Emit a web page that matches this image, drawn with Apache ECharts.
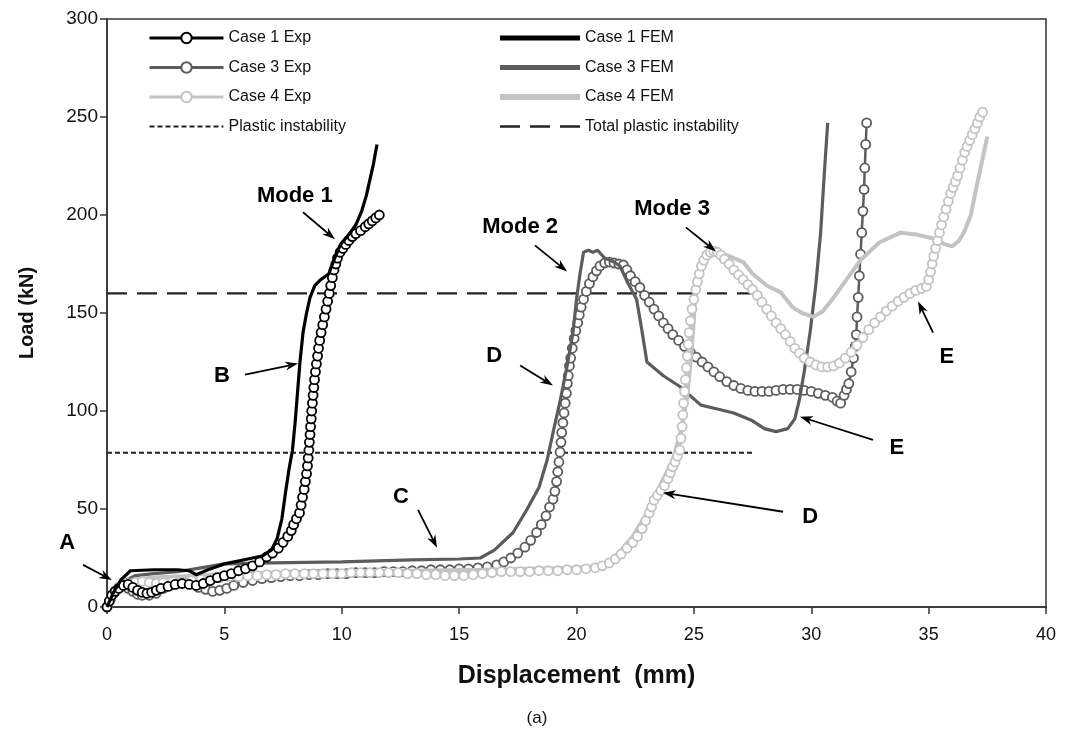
<!DOCTYPE html>
<html>
<head>
<meta charset="utf-8">
<script src="https://cdn.jsdelivr.net/npm/echarts@6/dist/echarts.min.js"></script>
<style>
html,body{margin:0;padding:0;background:#fff;}
#chart{width:1067px;height:740px;}
</style>
</head>
<body>
<div id="chart"></div>
<script>
// ---- data (displacement mm, load kN) ----
const xTicks = [0, 5, 10, 15, 20, 25, 30, 35, 40];
const yTicks = [0, 50, 100, 150, 200, 250, 300];

const case1Exp = [[0,0],[0.1,3],[0.2,6],[0.35,8],[0.5,9.5],[0.7,11],[0.9,11.5],[1.1,10],[1.3,8.5],[1.5,7.5],[1.7,7],[1.9,7.5],[2.1,8.5],[2.3,9.5],[2.6,10.5],[2.9,11.5],[3.2,12],[3.5,11.5],[3.8,11],[4.1,12],[4.4,13.5],[4.7,15],[5.0,16],[5.3,17],[5.6,18.5],[5.9,19.5],[6.2,21],[6.5,23],[6.8,25.5],[7.05,27.5],[7.3,30],[7.5,33],[7.7,36],[7.85,39],[7.95,42],[8.07,45],[8.2,48],[8.27,52],[8.33,56],[8.4,60],[8.45,64],[8.5,68],[8.54,72],[8.57,76],[8.6,80],[8.62,84],[8.65,88],[8.67,92],[8.7,96],[8.72,100],[8.75,104],[8.78,108],[8.81,112],[8.84,116],[8.88,120],[8.92,124],[8.97,128],[9.01,132],[9.06,136],[9.12,140],[9.19,144],[9.26,148],[9.33,152],[9.4,156],[9.47,160],[9.53,164],[9.6,168],[9.67,172],[9.75,175],[9.82,178],[9.93,181],[10.05,183],[10.17,185],[10.3,187],[10.45,189],[10.6,190.5],[10.8,192],[11.0,194],[11.15,195.5],[11.3,197],[11.45,198.5],[11.6,200]];
const case1Fem = [[0,0],[0.3,8],[0.6,14],[1.0,18.5],[2.0,19],[3.0,19],[3.5,18.5],[3.8,16.5],[4.3,19],[5.0,22],[5.8,24],[6.6,26],[7.0,29],[7.25,35],[7.45,45],[7.6,58],[7.75,70],[7.9,80],[8.02,95],[8.12,110],[8.22,125],[8.35,140],[8.5,150],[8.65,158],[8.85,164],[9.1,167],[9.45,170],[9.7,178],[9.95,185],[10.3,190],[10.6,195],[10.85,202],[11.05,210],[11.2,218],[11.35,226],[11.5,236]];
const case3Exp = [[0,0],[0.15,4],[0.3,7],[0.5,10],[0.7,11],[0.9,9.5],[1.1,8],[1.3,6.5],[1.5,6],[1.8,6],[2.1,7],[2.4,9.5],[2.7,11],[3.0,12],[3.3,12.5],[3.6,12],[3.9,10],[4.2,9],[4.5,8],[4.8,8.5],[5.1,9.5],[5.4,11],[5.8,12.5],[6.2,13.5],[6.6,14.5],[7.0,15],[7.4,15.5],[7.8,16],[8.2,16],[8.6,16.5],[9.0,16.5],[9.4,17],[9.8,17],[10.2,17],[10.6,17.5],[11.0,17.5],[11.4,17.5],[11.8,18],[12.2,18],[12.6,18],[13.0,18.5],[13.4,18.5],[13.8,19],[14.2,19],[14.6,19],[15.0,19.5],[15.4,19.5],[15.8,20],[16.2,20.5],[16.6,21.5],[16.9,23],[17.2,25],[17.5,27.5],[17.8,30.5],[18.05,34],[18.3,38],[18.5,42],[18.7,46.5],[18.85,51],[19.0,55],[19.08,59],[19.15,64],[19.2,69],[19.25,74],[19.3,79],[19.34,84],[19.37,89],[19.42,94],[19.47,99],[19.52,104],[19.57,109],[19.61,114],[19.65,118],[19.7,123],[19.75,127],[19.82,132],[19.9,137],[19.97,141],[20.05,145],[20.12,149],[20.2,153],[20.3,157],[20.42,161],[20.55,165],[20.7,168.5],[20.85,171.5],[21.0,174],[21.2,175.5],[21.4,176],[21.6,175.5],[21.8,175],[22.0,174.5],[22.15,172],[22.3,169],[22.5,166],[22.7,163],[22.9,159],[23.1,155.5],[23.3,152],[23.5,148.5],[23.7,145],[23.9,142],[24.1,139],[24.35,136],[24.6,133],[24.85,130],[25.1,127.5],[25.35,125],[25.6,122.5],[25.85,120],[26.1,117.5],[26.4,115],[26.7,113],[27.0,111.5],[27.3,110.5],[27.6,110],[27.9,110],[28.2,110],[28.5,110.5],[28.8,111],[29.1,111],[29.4,111],[29.7,110.5],[30.0,110],[30.3,109],[30.6,108],[30.9,107],[31.1,105],[31.25,104],[31.4,108],[31.5,111],[31.6,114],[31.7,120],[31.8,127],[31.87,133],[31.92,139],[31.95,148],[32.0,158],[32.05,169],[32.1,180],[32.15,191],[32.2,202],[32.25,213],[32.28,224],[32.32,236],[32.36,247]];
const case3Fem = [[0,0],[0.3,8],[0.7,13],[1.2,16],[2,17],[3,18],[4,20],[5,22],[7,22.5],[10,23],[13,24],[15,24.5],[15.9,25],[16.5,29],[17.3,38],[17.9,50],[18.4,61],[18.75,75],[19.0,89],[19.3,105],[19.6,123],[19.85,140],[20.0,157],[20.15,170],[20.3,181],[20.5,182],[20.7,181],[20.9,182],[21.2,178],[21.6,176],[21.85,174],[22.2,165],[22.56,157],[22.8,140],[23.0,125],[23.7,118],[24.4,112.5],[25.3,103],[26.0,101],[26.7,99],[27.5,95],[28.0,91],[28.5,89.5],[29.0,91],[29.3,96],[29.5,106],[29.7,120],[29.95,140],[30.2,165],[30.4,191],[30.55,220],[30.7,247]];
const case4Exp = [[0,0],[0.1,3],[0.2,6],[0.35,8.5],[0.5,10],[0.7,11.5],[0.9,12],[1.2,12.5],[1.5,13],[1.8,12.5],[2.1,12],[2.4,12.5],[2.8,13],[3.2,13],[3.6,13.5],[4.0,14],[4.4,14.5],[4.8,15],[5.2,15.5],[5.6,15.5],[6.0,16],[6.4,16],[6.8,16.5],[7.2,16.5],[7.6,17],[8.0,17],[8.4,17],[8.8,17],[9.2,17],[9.6,17],[10.0,17],[10.4,17.5],[10.8,17.5],[11.2,17.5],[11.6,17.5],[12.0,17.5],[12.4,17.5],[12.8,17],[13.2,17],[13.6,16.5],[14.0,16.5],[14.4,16],[14.8,16],[15.2,16],[15.6,16.5],[16.0,17],[16.4,17.5],[16.8,18],[17.2,18],[17.6,18],[18.0,18],[18.4,18.5],[18.8,18.5],[19.2,18.5],[19.6,19],[20.0,19],[20.4,19.5],[20.8,20],[21.1,21],[21.4,22.5],[21.65,24.5],[21.9,27],[22.15,30],[22.4,33],[22.6,36],[22.8,40],[22.95,44],[23.1,48],[23.2,51],[23.3,54.5],[23.45,57],[23.6,59.5],[23.75,62],[23.9,65.5],[24.0,68.5],[24.1,71.5],[24.2,74],[24.3,77],[24.4,80],[24.45,86],[24.5,92],[24.53,98],[24.56,104],[24.6,110],[24.64,116],[24.68,122],[24.72,128],[24.76,134],[24.8,140],[24.85,146],[24.92,152],[25.0,157],[25.08,162],[25.15,166],[25.23,170],[25.32,174],[25.42,177],[25.55,179.5],[25.7,181],[25.85,181.5],[26.0,181],[26.15,179.5],[26.3,177.5],[26.5,175],[26.7,172],[26.9,169.5],[27.1,167],[27.3,164.5],[27.5,162],[27.7,159],[27.9,155.5],[28.1,152],[28.3,148.5],[28.5,145],[28.7,142],[28.9,139],[29.1,135.5],[29.3,132],[29.5,129.5],[29.7,127],[29.95,125],[30.2,123.5],[30.45,122.5],[30.7,122.5],[30.95,123],[31.2,124.5],[31.45,127],[31.7,130],[31.95,133.5],[32.2,137.5],[32.45,141.5],[32.7,145],[32.95,148],[33.2,151],[33.45,153.5],[33.7,156],[33.95,158],[34.2,160],[34.45,161.5],[34.7,162.5],[34.9,163.5],[35.0,167],[35.08,171],[35.15,175],[35.22,179],[35.3,183],[35.38,187],[35.46,191],[35.55,195],[35.64,199],[35.74,203],[35.84,207],[35.94,211],[36.04,214],[36.14,217],[36.24,220],[36.34,224],[36.44,228],[36.54,232],[36.64,235],[36.75,238],[36.86,241],[36.97,244],[37.08,247],[37.18,250],[37.3,252.5]];
const case4Fem = [[0,0],[0.3,7],[0.7,12],[1.2,14],[2,15],[3,15.5],[4,16],[5,17],[7,17.5],[10,18],[13,18.5],[16,19],[18,19.5],[20,20],[21,21],[21.6,25],[22.4,36],[23.0,48],[23.4,58],[24.1,75],[24.45,90],[24.7,106],[24.9,130],[25.05,157],[25.3,170],[25.6,178],[26.0,181],[26.5,179],[27.1,176],[27.5,170],[28.1,164],[28.7,160.5],[29.2,153],[29.6,150],[30.1,148],[30.5,151],[30.9,157],[31.5,167],[32.1,177],[32.9,186],[33.8,191],[34.5,190],[35.2,188],[35.7,185],[36.0,184],[36.3,187],[36.5,191],[36.8,200],[37.0,212],[37.25,226],[37.5,240]];
const plasticInstability = [[0,78.7],[27.5,78.7]];
const totalPlasticInstability = [[0,160],[27.5,160]];

// annotation labels: text, label point, arrow tail, arrow head (data coords)
const annotations = [
  {t:'A', p:[-1.7,32.7], a:[-1.02,21.5], b:[0.21,13.8]},
  {t:'B', p:[4.9,118], a:[5.88,118.6], b:[8.14,124.2]},
  {t:'Mode 1', p:[8.0,209.5], a:[8.35,201.4], b:[9.71,187.6]},
  {t:'Mode 2', p:[17.6,193.7], a:[18.23,184.5], b:[19.6,171.2]},
  {t:'Mode 3', p:[24.07,202.9], a:[24.66,193.7], b:[25.94,181.4]},
  {t:'D', p:[16.49,128.3], a:[17.6,123.2], b:[19.0,113]},
  {t:'C', p:[12.52,56.2], a:[13.25,49.6], b:[14.06,30.2]},
  {t:'D', p:[29.95,46], a:[28.8,48.6], b:[23.68,58.3]},
  {t:'E', p:[33.65,81.3], a:[32.63,85.3], b:[29.52,97.1]},
  {t:'E', p:[35.78,127.8], a:[35.19,140], b:[34.55,155.9]}
];

const C1 = '#000000', C3 = '#5c5c5c', C4 = '#c3c3c3';
const SANS = "'Liberation Sans',Arial,sans-serif";

function expSeries(name, data, color, z) {
  return {
    name, type: 'line', data, z,
    symbol: 'circle', symbolSize: 9, showAllSymbol: true,
    itemStyle: {color: '#ffffff', borderColor: color, borderWidth: 1.8},
    lineStyle: {color, width: 2.5},
    animation: false
  };
}
function femSeries(name, data, color, width, z) {
  return {
    name, type: 'line', data, z, symbol: 'none', smooth: false,
    lineStyle: {color, width},
    itemStyle: {color},
    animation: false
  };
}

const chart = echarts.init(document.getElementById('chart'), null, {renderer: 'canvas'});
const legendText = {fontSize: 16, fontFamily: SANS, color: '#111'};
const hideDot = {opacity: 0};
const option = {
  backgroundColor: '#ffffff',
  animation: false,
  grid: {left: 107, right: 21, top: 19, bottom: 133, show: true, borderColor: '#333', borderWidth: 1.5, backgroundColor: 'transparent'},
  legend: [
    {data: [
       {name: 'Case 1 Exp', lineStyle: {width: 3}},
       {name: 'Case 3 Exp', lineStyle: {width: 3}},
       {name: 'Case 4 Exp', lineStyle: {width: 3}},
       {name: 'Plastic instability', itemStyle: hideDot, lineStyle: {width: 2}}],
     orient: 'vertical', left: 148, top: 30, padding: 0,
     itemWidth: 74, itemHeight: 13, itemGap: 13.5, textStyle: legendText, selectedMode: false},
    {data: [
       {name: 'Case 1 FEM', itemStyle: hideDot, lineStyle: {width: 5}},
       {name: 'Case 3 FEM', itemStyle: hideDot, lineStyle: {width: 5}},
       {name: 'Case 4 FEM', itemStyle: hideDot, lineStyle: {width: 6}},
       {name: 'Total plastic instability', itemStyle: hideDot, lineStyle: {width: 2.5}}],
     orient: 'vertical', left: 497, top: 30, padding: 0,
     itemWidth: 80, itemHeight: 13, itemGap: 13.5, textStyle: legendText, selectedMode: false}
  ],
  xAxis: {
    type: 'value', min: xTicks[0], max: xTicks[xTicks.length - 1], interval: xTicks[1] - xTicks[0],
    name: 'Displacement  (mm)', nameLocation: 'middle', nameGap: 57,
    nameTextStyle: {fontSize: 25, fontWeight: 'bold', fontFamily: SANS, color: '#111'},
    axisLine: {onZero: false, lineStyle: {color: '#333', width: 1.5}},
    axisTick: {inside: false, length: 7, lineStyle: {color: '#333', width: 1.5}},
    axisLabel: {fontSize: 18, fontFamily: SANS, color: '#111', margin: 19},
    splitLine: {show: false}
  },
  yAxis: {
    type: 'value', min: yTicks[0], max: yTicks[yTicks.length - 1], interval: yTicks[1] - yTicks[0],
    name: 'Load (kN)', nameLocation: 'middle', nameGap: 70,
    nameTextStyle: {fontSize: 20, fontWeight: 'bold', fontFamily: SANS, color: '#111'},
    axisLine: {onZero: false, lineStyle: {color: '#333', width: 1.5}},
    axisTick: {inside: false, length: 7, lineStyle: {color: '#333', width: 1.5}},
    axisLabel: {fontSize: 19, fontFamily: SANS, color: '#111', margin: 9},
    splitLine: {show: false}
  },
  series: [
    femSeries('Plastic instability', plasticInstability, '#222', 2, 1),
    femSeries('Total plastic instability', totalPlasticInstability, '#222', 2.2, 1),
    expSeries('Case 3 Exp', case3Exp, C3, 3),
    femSeries('Case 3 FEM', case3Fem, C3, 3.2, 4),
    expSeries('Case 4 Exp', case4Exp, C4, 5),
    femSeries('Case 4 FEM', case4Fem, C4, 4, 5),
    expSeries('Case 1 Exp', case1Exp, C1, 6),
    femSeries('Case 1 FEM', case1Fem, C1, 3.2, 7)
  ]
};
option.series[0].lineStyle.type = [5, 3];
option.series[1].lineStyle.type = [20, 10];
chart.setOption(option);

function drawAnnotations() {
  const els = [];
  annotations.forEach(function (an) {
    const p = chart.convertToPixel({gridIndex: 0}, an.p);
    const a = chart.convertToPixel({gridIndex: 0}, an.a);
    const b = chart.convertToPixel({gridIndex: 0}, an.b);
    els.push({type: 'text', x: p[0], y: p[1], z: 100,
      style: {text: an.t, fontSize: 22, fontWeight: 'bold', fontFamily: SANS, fill: '#000', align: 'center', verticalAlign: 'middle'}});
    const dx = b[0] - a[0], dy = b[1] - a[1];
    const L = Math.sqrt(dx * dx + dy * dy);
    const ux = dx / L, uy = dy / L, nx = -uy, ny = ux;
    const hl = 13, hw = 4.5;
    els.push({type: 'line', z: 100, shape: {x1: a[0], y1: a[1], x2: b[0] - ux * 6, y2: b[1] - uy * 6},
      style: {stroke: '#000', lineWidth: 1.8}});
    els.push({type: 'polygon', z: 100, shape: {points: [
      [b[0], b[1]],
      [b[0] - ux * hl + nx * hw, b[1] - uy * hl + ny * hw],
      [b[0] - ux * 9, b[1] - uy * 9],
      [b[0] - ux * hl - nx * hw, b[1] - uy * hl - ny * hw]
    ]}, style: {fill: '#000'}});
  });
  els.push({type: 'text', x: 537, y: 718, z: 100,
    style: {text: '(a)', fontSize: 17, fontFamily: SANS, fill: '#111', align: 'center', verticalAlign: 'middle'}});
  chart.setOption({graphic: {elements: els}});
}
drawAnnotations();
</script>
</body>
</html>
